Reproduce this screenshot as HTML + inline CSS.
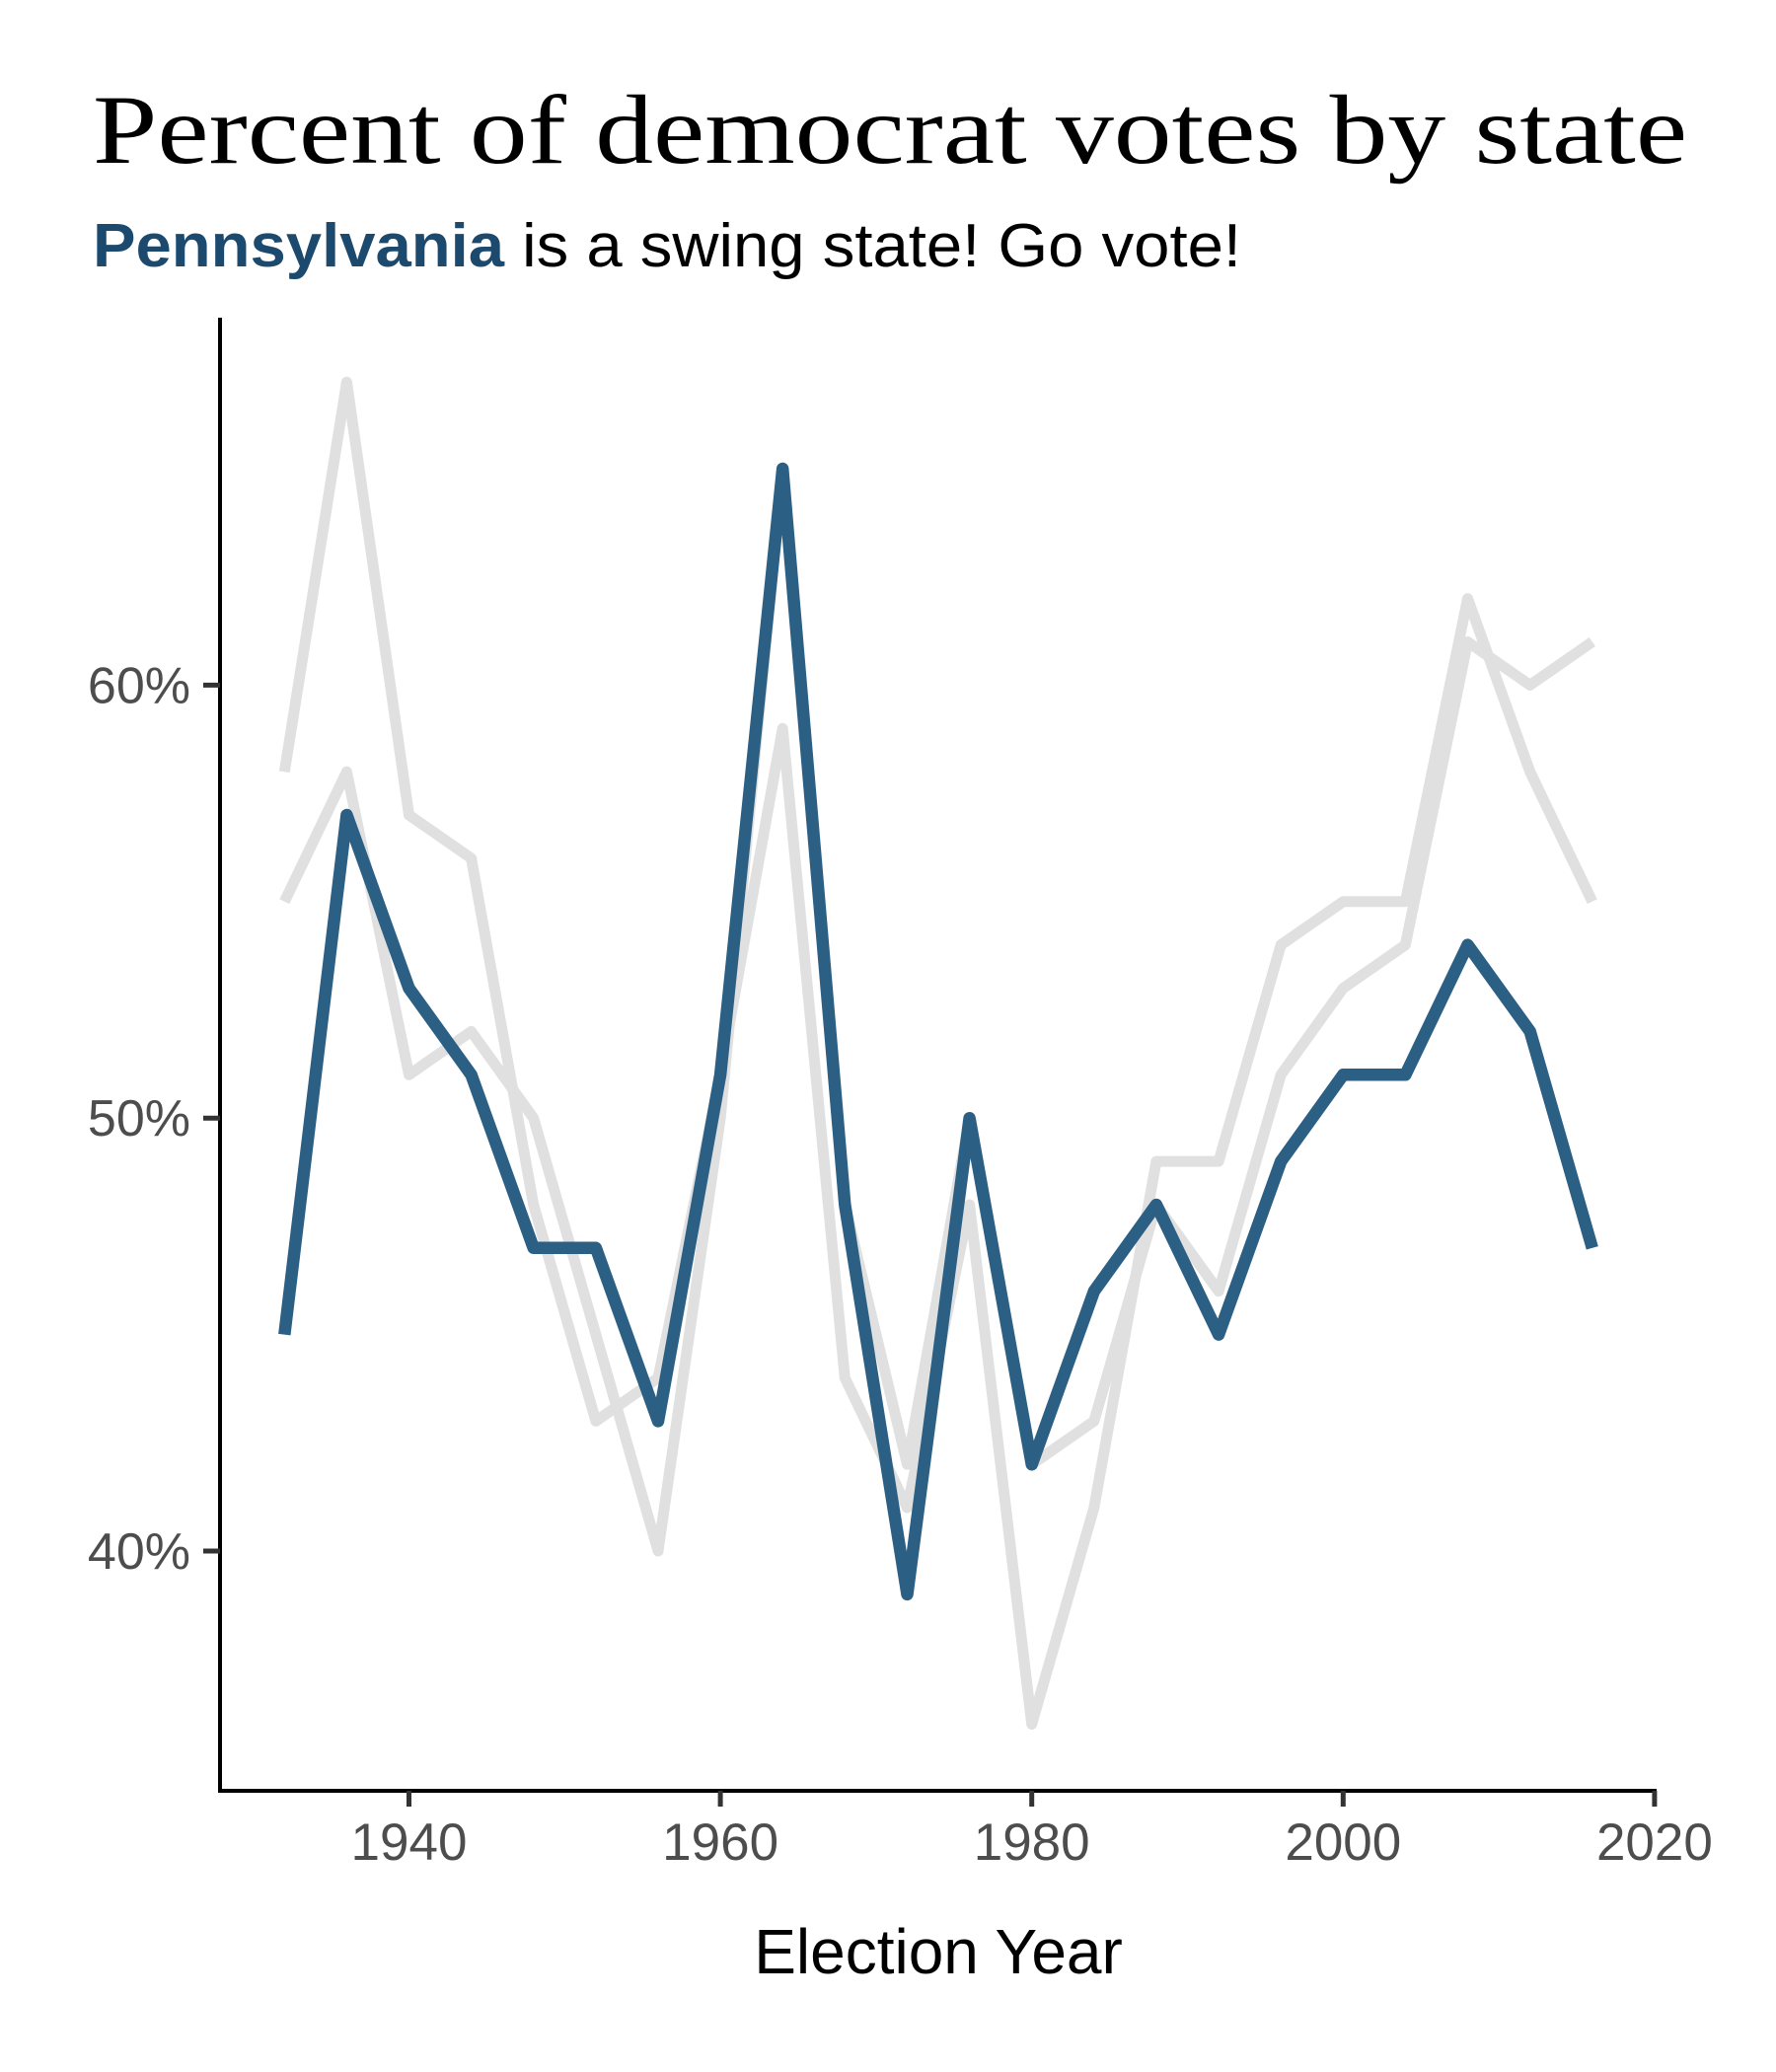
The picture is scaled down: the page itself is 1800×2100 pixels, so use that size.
<!DOCTYPE html>
<html><head><meta charset="utf-8"><style>
html,body{margin:0;padding:0;background:#fff;}
svg{display:block;}
</style></head><body>
<svg id="chart" width="1800" height="2100" viewBox="0 0 1800 2100" xmlns="http://www.w3.org/2000/svg">
<text x="94" y="165" font-family="'Liberation Serif', serif" font-size="100" fill="#000" textLength="1616" lengthAdjust="spacingAndGlyphs">Percent of democrat votes by state</text>
<text x="94" y="270" font-family="'Liberation Sans', sans-serif" font-size="62" fill="#000" textLength="1164" lengthAdjust="spacingAndGlyphs"><tspan font-weight="bold" fill="#1b4a6e">Pennsylvania</tspan> is a swing state! Go vote!</text>
<g id="plot"></g>
<text x="951" y="2000" text-anchor="middle" font-family="'Liberation Sans', sans-serif" font-size="64" fill="#000">Election Year</text>
</svg>
<script>
const years = [1932,1936,1940,1944,1948,1952,1956,1960,1964,1968,1972,1976,1980,1984,1988,1992,1996,2000,2004,2008,2012,2016];
const greyA = [58,67,57,56,48,43,44,51,59,44,41,48,36,41,49,49,54,55,55,62,58,55];
const greyB = [55,58,51,52,50,45,40,50,65,48,42,50,42,43,48,46,51,53,54,61,60,61];
const pennsylvania = [45,57,53,51,47,47,43,51,65,48,39,50,42,46,48,45,49,51,51,54,52,47];
const xTicks = [1940,1960,1980,2000,2020];
const yTicks = [40,50,60];
const yTickLabels = ['40%','50%','60%'];

const NS='http://www.w3.org/2000/svg';
const g=document.getElementById('plot');
function x(yr){return 414.5+(yr-1940)*15.78;}
function y(v){return 1572-(v-40)*43.88;}
function mk(tag,attrs){const e=document.createElementNS(NS,tag);for(const k in attrs)e.setAttribute(k,attrs[k]);g.appendChild(e);return e;}

function series(vals,color,w,name){
  const d=vals.map((v,i)=>(i?'L':'M')+x(years[i]).toFixed(1)+','+y(v).toFixed(1)).join(' ');
  const p=mk('path',{d:d,fill:'none',stroke:color,'stroke-width':w,'stroke-linejoin':'round'});
  
  
}
series(greyA,'#e0e0e0',11,'state-line-grey-a');
series(greyB,'#e0e0e0',11,'state-line-grey-b');
series(pennsylvania,'#2c5f84',12.5,'pennsylvania-line');

const ya=mk('line',{x1:223,y1:322,x2:223,y2:1817,stroke:'#000','stroke-width':4});


const xa=mk('line',{x1:221,y1:1815,x2:1679,y2:1815,stroke:'#000','stroke-width':4});



xTicks.forEach(t=>{
  const tk=mk('line',{x1:x(t),y1:1815,x2:x(t),y2:1831,stroke:'#333','stroke-width':5});
  
  
  const tx=mk('text',{x:x(t),y:1885,'text-anchor':'middle','font-family':"'Liberation Sans', sans-serif",'font-size':53,fill:'#4d4d4d'});
  tx.textContent=String(t);
  
  
});
yTicks.forEach((t,i)=>{
  const tk=mk('line',{x1:206,y1:y(t),x2:223,y2:y(t),stroke:'#333','stroke-width':5});
  
  
  const tx=mk('text',{x:193,y:y(t)+18,'text-anchor':'end','font-family':"'Liberation Sans', sans-serif",'font-size':52,fill:'#4d4d4d'});
  tx.textContent=yTickLabels[i];
  
  
});
</script>
</body></html>
